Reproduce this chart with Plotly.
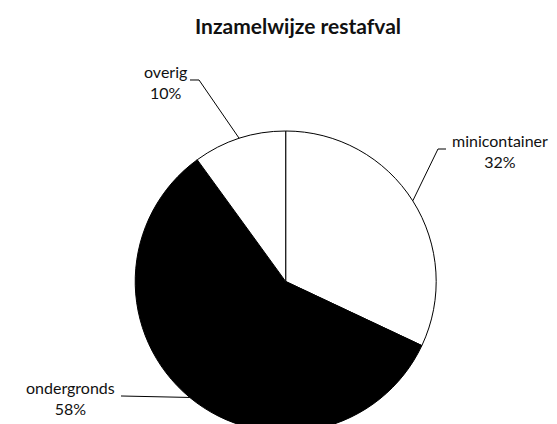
import math
import plotly.graph_objects as go

# ---- data ----
title_text = "Inzamelwijze restafval"
categories = ["minicontainer", "ondergronds", "overig"]
values = [32, 58, 10]
slice_colors = ["#ffffff", "#000000", "#ffffff"]

W, H = 557, 424
CX, CY = 277.7, 273.5          # pie centre in pixels (layout)
R = H - CY                     # radius limited by bottom edge

# label text positions (pixel centres) and elbow points (layout choices)
label_pos = {
    "minicontainer": (492, 143),
    "ondergronds": (62, 390),
    "overig": (157, 74),
}
elbow = {
    "minicontainer": [(430, 141), (438, 141)],
    "ondergronds": [(113, 388)],
    "overig": [(191, 72), (182, 72)],
}

FONT = "Lato, Open Sans, sans-serif"


def px(x, y):
    return x / W, 1 - y / H


fig = go.Figure(go.Pie(
    labels=categories,
    values=values,
    sort=False,
    direction="clockwise",
    rotation=0,
    marker=dict(colors=slice_colors, line=dict(color="#000000", width=1)),
    textinfo="none",
    hoverinfo="label+percent",
    domain=dict(x=[0, 2 * CX / W], y=[0, 2 * R / H]),
    showlegend=False,
))

shapes = []
annotations = []
total = sum(values)
cum = 0.0
for cat, v in zip(categories, values):
    mid = (cum + v / 2) / total * 2 * math.pi
    cum += v
    ax = CX + R * math.sin(mid)
    ay = CY - R * math.cos(mid)
    pts = [(ax, ay)] + elbow[cat]
    path = "M " + " L ".join(f"{px(x, y)[0]:.5f},{px(x, y)[1]:.5f}" for x, y in pts)
    shapes.append(dict(type="path", xref="paper", yref="paper", path=path,
                       line=dict(color="#000000", width=1)))
    lx, ly = label_pos[cat]
    pct = round(v / total * 100)
    annotations.append(dict(
        x=px(lx, ly)[0], y=px(lx, ly)[1], xref="paper", yref="paper",
        text=f"{cat}<br>{pct}%", showarrow=False, align="center",
        xanchor="center", yanchor="middle",
        font=dict(family=FONT, size=16, color="#111111"),
    ))

fig.update_layout(
    width=W, height=H,
    margin=dict(l=0, r=0, t=0, b=0),
    paper_bgcolor="#ffffff",
    plot_bgcolor="#ffffff",
    title=dict(text="<b>" + title_text + "</b>", x=290 / W, xanchor="center",
               y=1 - 19 / H, yanchor="middle", yref="container",
               font=dict(family=FONT, size=21, color="#111111")),
    shapes=shapes,
    annotations=annotations,
)

fig.write_html("out.html")
